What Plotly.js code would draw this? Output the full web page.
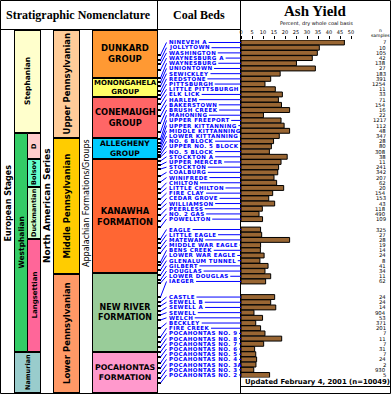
<!DOCTYPE html>
<html><head><meta charset="utf-8">
<script src="https://cdn.plot.ly/plotly-3.0.1.min.js"></script>
<style>html,body{margin:0;padding:0;background:#fff}#chart{width:391px;height:394px}</style>
</head><body><div id="chart"></div>
<script>
// ---------------- DATA ----------------
const bedNames = ["NINEVEH A","JOLLYTOWN","WASHINGTON","WAYNESBURG A","WAYNESBURG","UNIONTOWN","SEWICKLEY","REDSTONE","PITTSBURGH","LITTLE PITTSBURGH","ELK LICK","HARLEM","BAKERSTOWN","BRUSH CREEK","MAHONING","UPPER FREEPORT","UPPER KITTANNING","MIDDLE KITTANNING","LOWER KITTANNING","NO. 6 BLOCK","UPPER NO. 5 BLOCK","NO. 5 BLOCK","STOCKTON A","UPPER MERCER","STOCKTON","COALBURG","WINIFREDE","CHILTON","LITTLE CHILTON","FIRE CLAY","CEDAR GROVE","WILLIAMSON","PEERLESS","NO. 2 GAS","POWELLTON","EAGLE","LITTLE EAGLE","MATEWAN","MIDDLE WAR EAGLE","BENS CREEK","LOWER WAR EAGLE","GLENALUM TUNNEL","GILBERT","DOUGLAS","LOWER DOUGLAS","IAEGER","CASTLE","SEWELL B","SEWELL A","SEWELL","WELCH","BECKLEY","FIRE CREEK","POCAHONTAS NO. 9","POCAHONTAS NO. 8","POCAHONTAS NO. 7","POCAHONTAS NO. 6","POCAHONTAS NO. 5","POCAHONTAS NO. 4","POCAHONTAS NO. 3A","POCAHONTAS NO. 3","POCAHONTAS NO. 2"];
const ashYield = [47.0,35.6,34.7,32.4,25.2,33.8,17.8,13.5,10.9,15.6,18.8,17.0,18.4,22.1,10.2,18.2,19.6,22.1,17.4,14.8,13.8,12.9,21.0,18.2,17.1,16.7,15.0,16.2,19.4,14.4,12.6,15.3,9.7,8.2,9.8,8.9,9.4,22.1,8.9,8.8,10.5,8.6,12.3,10.9,13.5,11.2,15.3,13.5,15.8,5.9,9.8,6.7,8.9,10.9,18.5,10.3,6.2,6.7,7.1,6.8,5.8,13.0];
const nSamples = [7,10,105,42,138,27,183,391,1254,11,33,71,154,16,22,1217,112,48,347,28,80,308,38,11,241,342,207,62,20,154,153,43,118,490,109,325,27,28,19,14,24,8,41,34,11,62,24,24,14,904,53,371,201,7,11,7,31,7,24,2,930,5];
// blank rows after these beds
const gapsAfter = {"POWELLTON":1, "IAEGER":2};
// stratigraphic level of each bed within the column (column units, top = 30, base = 393)
const bedLevel = [55,60,64,70,78,82,86,91,95,99,104,110,116,123,132,139,143,146,149,152,155,157,161,165,169,176,182,189,193,199,205,209,215,221,227,239,243,248,253,262,265,270,275,280,283,297,302,306,311,315,320,328,337,342,347,352,357,363,368,373,378,383];
const tickVals = [0,5,10,15,20,25,30,35,40,45,50];

// European stages
const euroNames = ["Stephanian","Westphalian","D","Bolsov","Duckmantian","Langsettian","Namurian"];
const euroTop =    [30,133,133,159,187,239,352];
const euroBottom = [133,352,159,187,239,352,393];
const naSeries = ["Upper Pennsylvanian","Middle Pennsylvanian","Lower Pennsylvanian"];
const naTop = [30,138,274];
const naBottom = [138,274,393];
const fmNames = ["DUNKARD<br>GROUP","MONONGAHELA<br>GROUP","CONEMAUGH<br>GROUP","ALLEGHENY<br>GROUP","KANAWHA<br>FORMATION","NEW RIVER<br>FORMATION","POCAHONTAS<br>FORMATION"];
const fmTop = [30,78,97,138,159,273,352];
const fmBottom = [78,97,138,159,273,352,393];

// ---------------- LAYOUT HELPERS ----------------
const W = 391, H = 394;
const X = px => px / W, Y = py => 1 - py / H;
const rowTop = 39.9, rowStep = 5.195;
const rows = [];
bedNames.forEach(n => { rows.push(n); const g = gapsAfter[n] || 0; for (let k = 0; k < g; k++) rows.push("gap_" + n + k); });
const nRows = rows.length;
const rowY = name => rowTop + (rows.indexOf(name) + 0.5) * rowStep;
const axisX = 241, pxPerUnit = 2.2, plotRight = 390;

const shapes = [], ann = [];
const line = (x0, y0, x1, y1, color, width) => { shapes.push({type:'line', xref:'paper', yref:'paper', x0:X(x0), y0:Y(y0), x1:X(x1), y1:Y(y1), line:{color:color||'#000', width:width||1}}); return shapes.length - 1; };
const rect = (x0, y0, x1, y1, fill) => shapes.push({type:'rect', xref:'paper', yref:'paper', x0:X(x0), y0:Y(y0), x1:X(x1), y1:Y(y1), fillcolor:fill||'rgba(0,0,0,0)', line:{color:'#000', width:1}, layer:'below'});
const text = (str, x, y, o) => { ann.push(Object.assign({text:str, x:X(x), y:Y(y), xref:'paper', yref:'paper', showarrow:false, xanchor:'center', yanchor:'middle', font:{family:'DejaVu Sans', size:8, color:'#000'}}, o||{})); return ann.length - 1; };
const spaced = (s, ls) => '<span style="letter-spacing:' + ls + 'px">' + s + '</span>';

// ---------- stratigraphic columns ----------
const euroCols = {"Stephanian":[14.5,40.5,'#FFFFCC'],"Westphalian":[14.5,27.5,'#33CC66'],"D":[27.5,40.5,'#FFCCCC'],"Bolsov":[27.5,40.5,'#66FFCC'],"Duckmantian":[27.5,40.5,'#CCFFCC'],"Langsettian":[27.5,40.5,'#FF6699'],"Namurian":[14.5,40.5,'#99CCCC']};
const euroFont = {"Stephanian":7.5,"Westphalian":7.5,"D":6.5,"Bolsov":6.5,"Duckmantian":6.5,"Langsettian":7,"Namurian":6.5};
euroNames.forEach((n, i) => {
  const c = euroCols[n];
  rect(c[0], euroTop[i] + 0.5, c[1], euroBottom[i] - 0.5, c[2]);
  text('<b>' + n + '</b>', (c[0] + c[1]) / 2, (euroTop[i] + euroBottom[i]) / 2, {textangle:-90, font:{family:'DejaVu Sans', size:euroFont[n], color:'#000'}});
});
const naCols = ['#FFCC99','#FFCC00','#FF9966'];
naSeries.forEach((n, i) => {
  rect(53.5, naTop[i] + 0.5, 79.5, naBottom[i] - 0.5, naCols[i]);
  text('<b>' + n + '</b>', 66.5, (naTop[i] + naBottom[i]) / 2, {textangle:-90, font:{family:'DejaVu Sans', size:8.5, color:'#000'}});
});
const fmCols = ['#FF9933','#FFFF66','#FF6666','#00CCFF','#FF6633','#99CC99','#FF99CC'];
const fmFont = [8.5,7,8.3,7.5,8.3,8,7.8];
fmNames.forEach((n, i) => {
  rect(92.5, fmTop[i] + 0.5, 157.5, fmBottom[i] - 0.5, fmCols[i]);
  text('<b>' + n + '</b>', 125, (fmTop[i] + fmBottom[i]) / 2, {font:{family:'DejaVu Sans', size:fmFont[i], color:'#000'}});
});
// column titles
text('<b>European Stages</b>', 7.5, 203, {textangle:-90, font:{family:'DejaVu Sans', size:8, color:'#000'}});
text('<b>North American Series</b>', 47, 206, {textangle:-90, font:{family:'DejaVu Sans', size:9, color:'#000'}});
text('Appalachian Formations/Groups', 86, 203, {textangle:-90, font:{family:'DejaVu Sans', size:8, color:'#000'}});
[14.5, 40.5, 53.5, 79.5, 92.5].forEach(x => line(x, 30, x, 393.5));

// ---------- frame ----------
line(0.5, 0.5, 390.5, 0.5);
line(0.5, 0.5, 0.5, 393.5);
line(0.5, 393.5, 390.5, 393.5);
line(390.5, 0.5, 390.5, 393.5);
line(0.5, 29.5, 241, 29.5);
line(157.5, 0.5, 157.5, 393.5);
line(240.5, 0.5, 240.5, 393.5);
line(240.5, 386.5, 390.5, 386.5);

// headers
text('<b>Stratigraphic Nomenclature</b>', 78.5, 15, {font:{family:'Liberation Serif', size:12, color:'#000'}});
text('<b>Coal Beds</b>', 199, 15, {font:{family:'Liberation Serif', size:12, color:'#000'}});
text('<b>Ash Yield</b>', 315, 11, {font:{family:'Liberation Serif', size:15, color:'#000'}});
text('Percent, dry whole coal basis', 316, 24, {font:{family:'DejaVu Sans', size:5, color:'#000'}});
text('n', 380, 31, {font:{family:'DejaVu Sans', size:4.5, color:'#000'}});
text('samples', 380, 35.5, {font:{family:'DejaVu Sans', size:4.5, color:'#000'}});
text('<b>Updated February 4, 2001 (n=10049)</b>', 243, 381.5, {xanchor:'left', font:{family:'DejaVu Sans', size:6.9, color:'#000'}});

// ---------- coal bed labels & connectors ----------
const labelX = 166.5, LS = 0.45;
const ctx = document.createElement('canvas').getContext('2d');
ctx.font = 'bold 5.5px "DejaVu Sans"';
const links = [];
bedNames.forEach((n, i) => {
  const ry = rowY(n);
  line(157, bedLevel[i], 161, bedLevel[i], '#000', 2);
  line(160.5, bedLevel[i], labelX, ry, '#0000FF', 1);
  const est = (ctx.measureText(n).width || n.length * 3.5) + n.length * LS;
  const si = line(labelX + est + 1.5, ry, axisX, ry, '#0000FF', 1);
  const ai = text('<b>' + spaced(n, LS) + '</b>', labelX, ry, {xanchor:'left', font:{family:'DejaVu Sans', size:5.5, color:'#0000FF'}});
  links.push([si, ai]);
  text(String(nSamples[i]), 388, ry, {xanchor:'right', font:{family:'DejaVu Sans', size:5.3, color:'#000'}});
});

// ---------- bars ----------
const trace = {
  type:'bar', orientation:'h', y:bedNames, x:ashYield,
  marker:{color:'#996633', line:{color:'#000', width:1}},
  hoverinfo:'skip'
};
const yTop = rowTop, yBot = rowTop + nRows * rowStep;
const layout = {
  width:W, height:H, margin:{l:0, r:0, t:0, b:0},
  paper_bgcolor:'#fff', plot_bgcolor:'rgba(0,0,0,0)', showlegend:false,
  bargap:0.06,
  xaxis:{domain:[X(axisX), X(plotRight)], range:[0, (plotRight - axisX) / pxPerUnit], side:'top',
         tickvals:tickVals, ticks:'outside', ticklen:3, tickcolor:'#000', tickwidth:1,
         tickfont:{family:'DejaVu Sans', size:5, color:'#000'}, showgrid:false, zeroline:false, showline:false, fixedrange:true},
  yaxis:{domain:[Y(yBot), Y(yTop)], type:'category', categoryorder:'array', categoryarray:rows,
         range:[nRows - 0.5, -0.5], showticklabels:false, showgrid:false, zeroline:false, ticks:'', fixedrange:true},
  shapes:shapes, annotations:ann
};
const gd = document.getElementById('chart');
Plotly.newPlot(gd, [trace], layout, {staticPlot:true, displayModeBar:false}).then(() => {
  // start each leader line right after its label's rendered text
  const els = gd.querySelectorAll('g.annotation');
  const byIdx = {};
  els.forEach(el => { byIdx[el.getAttribute('data-index')] = el; });
  const upd = {};
  links.forEach(([si, ai]) => {
    const el = byIdx[String(ai)];
    if (!el) return;
    const t = el.querySelector('text');
    if (!t) return;
    const r = t.getBoundingClientRect(), g = gd.getBoundingClientRect();
    const endPx = r.right - g.left;
    if (endPx > 0) upd['shapes[' + si + '].x0'] = X(Math.min(endPx + 1.5, axisX));
  });
  Plotly.relayout(gd, upd);
});
</script></body></html>
